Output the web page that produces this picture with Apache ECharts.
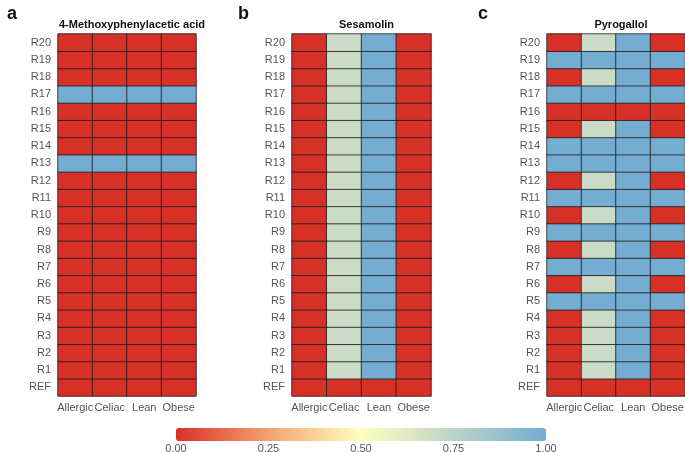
<!DOCTYPE html>
<html><head><meta charset="utf-8">
<script src="https://cdn.jsdelivr.net/npm/echarts@6/dist/echarts.min.js"></script>
<style>html,body{margin:0;padding:0;background:#fff}#c{width:685px;height:452px}</style>
</head><body><div id="c"></div>
<script>
const columns = ['Allergic', 'Celiac', 'Lean', 'Obese'];
const rows = ['REF','R1','R2','R3','R4','R5','R6','R7','R8','R9','R10','R11','R12','R13','R14','R15','R16','R17','R18','R19','R20'];
const titles = ['4-Methoxyphenylacetic acid', 'Sesamolin', 'Pyrogallol'];
const panelLetters = ['a', 'b', 'c'];
const colorTicks = [0, 0.25, 0.5, 0.75, 1];
// values per row, REF..R20, columns Allergic, Celiac, Lean, Obese
const panelA = [
 [0,0,0,0],[0,0,0,0],[0,0,0,0],[0,0,0,0],[0,0,0,0],[0,0,0,0],[0,0,0,0],[0,0,0,0],[0,0,0,0],[0,0,0,0],
 [0,0,0,0],[0,0,0,0],[0,0,0,0],[1,1,1,1],[0,0,0,0],[0,0,0,0],[0,0,0,0],[1,1,1,1],[0,0,0,0],[0,0,0,0],[0,0,0,0]
];
const panelB = [
 [0,0,0,0],
 [0,0.7,1,0],[0,0.7,1,0],[0,0.7,1,0],[0,0.7,1,0],[0,0.7,1,0],[0,0.7,1,0],[0,0.7,1,0],[0,0.7,1,0],[0,0.7,1,0],[0,0.7,1,0],
 [0,0.7,1,0],[0,0.7,1,0],[0,0.7,1,0],[0,0.7,1,0],[0,0.7,1,0],[0,0.7,1,0],[0,0.7,1,0],[0,0.7,1,0],[0,0.7,1,0],[0,0.7,1,0]
];
const panelC = [
 [0,0,0,0],          // REF
 [0,0.7,1,0],        // R1
 [0,0.7,1,0],        // R2
 [0,0.7,1,0],        // R3
 [0,0.7,1,0],        // R4
 [1,1,1,1],          // R5
 [0,0.7,1,0],        // R6
 [1,1,1,1],          // R7
 [0,0.7,1,0],        // R8
 [1,1,1,1],          // R9
 [0,0.7,1,0],        // R10
 [1,1,1,1],          // R11
 [0,0.7,1,0],        // R12
 [1,1,1,1],          // R13
 [1,1,1,1],          // R14
 [0,0.7,1,0],        // R15
 [0,0,0,0],          // R16
 [1,1,1,1],          // R17
 [0,0.7,1,0],        // R18
 [1,1,1,1],          // R19
 [0,0.7,1,0]         // R20
];
const panels = [panelA, panelB, panelC];

const font = 'Liberation Sans, Arial, sans-serif';
const gridPos = [{left:58,width:138},{left:292,width:139},{left:547,width:138}];
const grids = [], xAxes = [], yAxes = [], series = [], titleArr = [];
panels.forEach((p, i) => {
  grids.push({left: gridPos[i].left, width: gridPos[i].width, top: 34, height: 362, outerBoundsMode:'none', containLabel:false});
  xAxes.push({type:'category', gridIndex:i, data:columns,
    axisLine:{show:false}, axisTick:{show:false},
    axisLabel:{color:'#555', fontSize:11, fontFamily:font, margin:6, interval:0}, splitLine:{show:false}});
  yAxes.push({type:'category', gridIndex:i, data:rows,
    axisLine:{show:false}, axisTick:{show:false},
    axisLabel:{color:'#555', fontSize:11, fontFamily:font, margin:7, interval:0}});
  const d = [];
  p.forEach((r, ri) => r.forEach((v, ci) => d.push([ci, ri, v])));
  series.push({type:'heatmap', xAxisIndex:i, yAxisIndex:i, data:d,
    itemStyle:{borderColor:'#1a1a1a', borderWidth:0.8}, emphasis:{disabled:true}});
  titleArr.push({text: titles[i], left: gridPos[i].left + gridPos[i].width/2, top: 14, textAlign:'center',
    textStyle:{fontSize:11, fontWeight:'bold', color:'#111', fontFamily:font}});
  titleArr.push({text: panelLetters[i], left: [2, 233, 473][i], top: 0,
    textStyle:{fontSize:18, fontWeight:'bold', color:'#111', fontFamily:font}});
});
// colorbar axis
grids.push({left:176, width:370, top:428, height:13, outerBoundsMode:'none', containLabel:false});
xAxes.push({type:'value', gridIndex:3, min:0, max:1, interval:0.25, position:'bottom',
  axisLine:{show:false}, axisTick:{show:false}, splitLine:{show:false},
  axisLabel:{color:'#555', fontSize:11, fontFamily:font, margin:2, formatter: v => v.toFixed(2), showMinLabel:true, showMaxLabel:true}});
yAxes.push({type:'value', gridIndex:3, show:false});

const chart = echarts.init(document.getElementById('c'), null, {renderer:'canvas'});
chart.setOption({
  animation:false,
  backgroundColor:'#fff',
  title: titleArr,
  grid: grids, xAxis: xAxes, yAxis: yAxes,
  visualMap: {type:'continuous', min:0, max:1, orient:'horizontal', left:176, top:428, padding:0,
    itemWidth:13, itemHeight:370, calculable:false, text:null, showLabel:false, seriesIndex:[0,1,2],
    inRange:{color:['#d73027','#f4a36e','#ffffbf','#bdd3c9','#74add1']}},
  series: series
});
</script></body></html>
